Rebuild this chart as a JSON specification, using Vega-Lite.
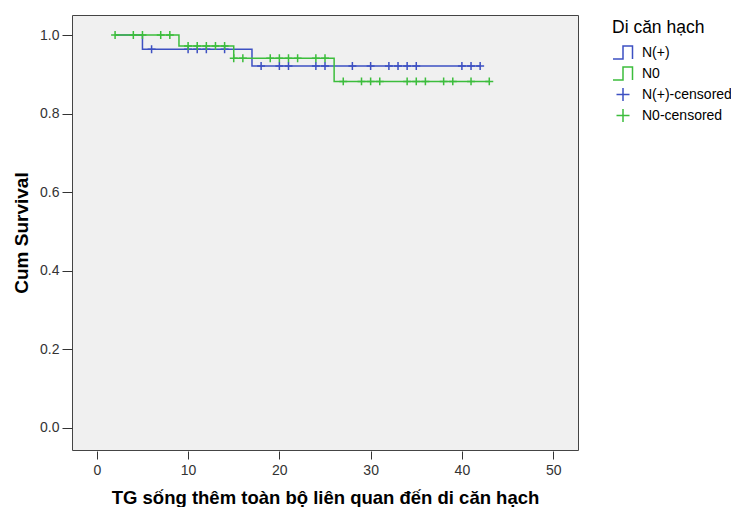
{
  "$schema": "https://vega.github.io/schema/vega-lite/v6.json",
  "width": 506,
  "height": 435,
  "autosize": {"type": "none"},
  "padding": {"left": 72, "top": 15, "right": 153, "bottom": 57},
  "background": "white",
  "config": {
    "view": {"fill": "#f0f0f0", "stroke": "#444444", "strokeWidth": 1},
    "font": "Liberation Sans",
    "axis": {"labelColor": "#333333", "tickColor": "#333333", "titleColor": "#000000", "grid": false, "domain": false}
  },
  "datasets": {
    "curves": [
      {"time": 2, "surv": 1, "label": "N(+)"},
      {"time": 5, "surv": 0.964, "label": "N(+)"},
      {"time": 17, "surv": 0.921, "label": "N(+)"},
      {"time": 42, "surv": 0.921, "label": "N(+)"},
      {"time": 2, "surv": 1, "label": "N0"},
      {"time": 9, "surv": 0.972, "label": "N0"},
      {"time": 15, "surv": 0.941, "label": "N0"},
      {"time": 26, "surv": 0.882, "label": "N0"},
      {"time": 43, "surv": 0.882, "label": "N0"}
    ],
    "censored": [
      {"time": 6, "surv": 0.964, "label": "N(+)-censored"},
      {"time": 10, "surv": 0.964, "label": "N(+)-censored"},
      {"time": 11, "surv": 0.964, "label": "N(+)-censored"},
      {"time": 12, "surv": 0.964, "label": "N(+)-censored"},
      {"time": 14, "surv": 0.964, "label": "N(+)-censored"},
      {"time": 18, "surv": 0.921, "label": "N(+)-censored"},
      {"time": 20, "surv": 0.921, "label": "N(+)-censored"},
      {"time": 21, "surv": 0.921, "label": "N(+)-censored"},
      {"time": 24, "surv": 0.921, "label": "N(+)-censored"},
      {"time": 25, "surv": 0.921, "label": "N(+)-censored"},
      {"time": 28, "surv": 0.921, "label": "N(+)-censored"},
      {"time": 30, "surv": 0.921, "label": "N(+)-censored"},
      {"time": 32, "surv": 0.921, "label": "N(+)-censored"},
      {"time": 33, "surv": 0.921, "label": "N(+)-censored"},
      {"time": 34, "surv": 0.921, "label": "N(+)-censored"},
      {"time": 35, "surv": 0.921, "label": "N(+)-censored"},
      {"time": 40, "surv": 0.921, "label": "N(+)-censored"},
      {"time": 41, "surv": 0.921, "label": "N(+)-censored"},
      {"time": 42, "surv": 0.921, "label": "N(+)-censored"},
      {"time": 2, "surv": 1, "label": "N0-censored"},
      {"time": 4, "surv": 1, "label": "N0-censored"},
      {"time": 5, "surv": 1, "label": "N0-censored"},
      {"time": 7, "surv": 1, "label": "N0-censored"},
      {"time": 8, "surv": 1, "label": "N0-censored"},
      {"time": 10, "surv": 0.972, "label": "N0-censored"},
      {"time": 11, "surv": 0.972, "label": "N0-censored"},
      {"time": 12, "surv": 0.972, "label": "N0-censored"},
      {"time": 13, "surv": 0.972, "label": "N0-censored"},
      {"time": 14, "surv": 0.972, "label": "N0-censored"},
      {"time": 15, "surv": 0.941, "label": "N0-censored"},
      {"time": 16, "surv": 0.941, "label": "N0-censored"},
      {"time": 19, "surv": 0.941, "label": "N0-censored"},
      {"time": 20, "surv": 0.941, "label": "N0-censored"},
      {"time": 21, "surv": 0.941, "label": "N0-censored"},
      {"time": 22, "surv": 0.941, "label": "N0-censored"},
      {"time": 24, "surv": 0.941, "label": "N0-censored"},
      {"time": 25, "surv": 0.941, "label": "N0-censored"},
      {"time": 27, "surv": 0.882, "label": "N0-censored"},
      {"time": 29, "surv": 0.882, "label": "N0-censored"},
      {"time": 30, "surv": 0.882, "label": "N0-censored"},
      {"time": 31, "surv": 0.882, "label": "N0-censored"},
      {"time": 34, "surv": 0.882, "label": "N0-censored"},
      {"time": 35, "surv": 0.882, "label": "N0-censored"},
      {"time": 36, "surv": 0.882, "label": "N0-censored"},
      {"time": 38, "surv": 0.882, "label": "N0-censored"},
      {"time": 39, "surv": 0.882, "label": "N0-censored"},
      {"time": 41, "surv": 0.882, "label": "N0-censored"},
      {"time": 43, "surv": 0.882, "label": "N0-censored"}
    ]
  },
  "encoding": {
    "x": {
      "field": "time", "type": "quantitative",
      "scale": {"domain": [-2.72, 52.72], "nice": false, "zero": false},
      "axis": {"values": [0, 10, 20, 30, 40, 50], "format": "d", "offset": 1, "tickSize": 8, "labelPadding": 4, "labelFontSize": 14, "title": "TG sống thêm toàn bộ liên quan đến di căn hạch", "titleFontSize": 18.5, "titleFontWeight": "bold", "titlePadding": 11}
    },
    "y": {
      "field": "surv", "type": "quantitative",
      "scale": {"domain": [-0.0565, 1.051], "nice": false, "zero": false},
      "axis": {"values": [0, 0.2, 0.4, 0.6, 0.8, 1.0], "format": ".1f", "tickSize": 10, "labelPadding": 3, "labelFontSize": 14, "title": "Cum Survival", "titleFontSize": 19, "titleFontWeight": "bold", "titlePadding": 8}
    },
    "color": {
      "field": "label", "type": "nominal",
      "scale": {"domain": ["N(+)", "N0", "N(+)-censored", "N0-censored"], "range": ["#3d50c2", "#3cbd3c", "#3d50c2", "#3cbd3c"]},
      "legend": {"title": "Di căn hạch", "orient": "none", "legendX": 540, "legendY": 4, "titleFontSize": 17.5, "titleFontWeight": "normal", "titleColor": "#000000", "labelFontSize": 14, "labelColor": "#000000", "symbolSize": 400, "symbolStrokeWidth": 1.5, "rowPadding": -1.5, "labelOffset": 8, "padding": 0, "titlePadding": 5}
    }
  },
  "layer": [
    {
      "data": {"name": "curves"},
      "mark": {"type": "line", "interpolate": "step-after", "strokeWidth": 1.5}
    },
    {
      "data": {"name": "censored"},
      "mark": {"type": "point", "filled": false, "strokeWidth": 1.5, "size": 150, "opacity": 1},
      "encoding": {
        "shape": {
          "field": "label", "type": "nominal",
          "scale": {"domain": ["N(+)", "N0", "N(+)-censored", "N0-censored"], "range": ["M-1,0.65H0V-0.65H0.95V0.65", "M-1,0.65H0V-0.65H0.95V0.65", "M-0.65,0H0.65M0,-0.65V0.65", "M-0.65,0H0.65M0,-0.65V0.65"]},
          "legend": {"title": "Di căn hạch", "orient": "none", "legendX": 540, "legendY": 4, "titleFontSize": 17.5, "titleFontWeight": "normal", "titleColor": "#000000", "labelFontSize": 14, "labelColor": "#000000", "symbolSize": 400, "symbolStrokeWidth": 1.5, "rowPadding": -1.5, "labelOffset": 8, "padding": 0, "titlePadding": 5}
        }
      }
    }
  ]
}
